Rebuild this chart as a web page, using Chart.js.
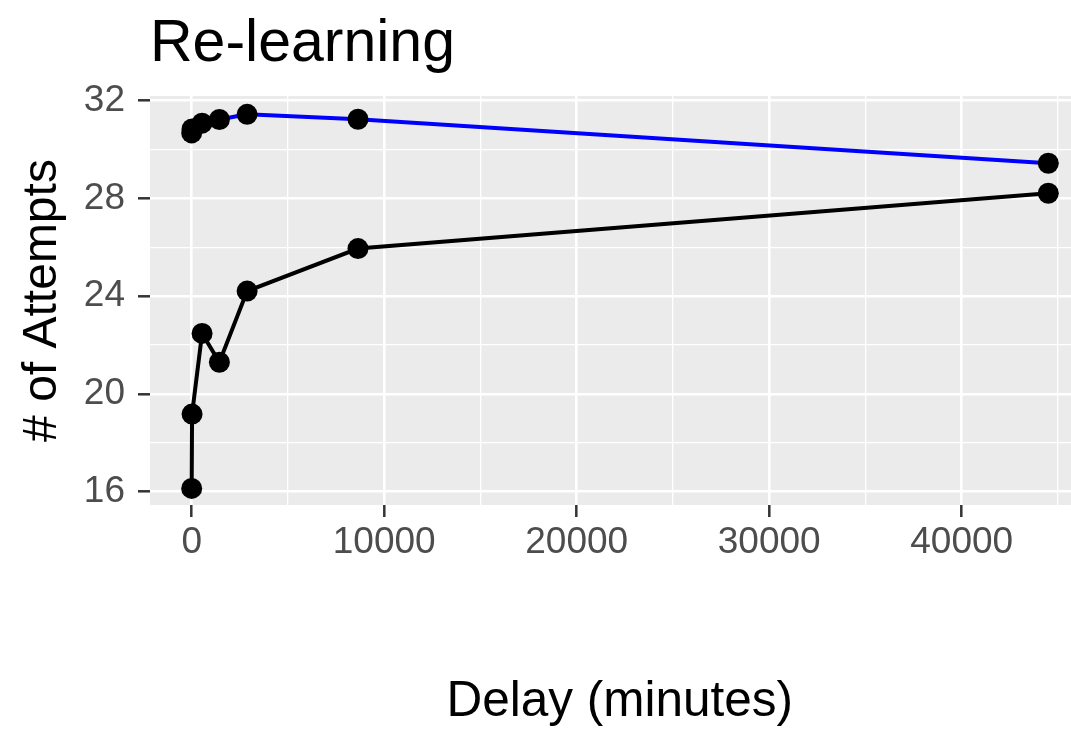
<!DOCTYPE html>
<html><head><meta charset="utf-8">
<script src="https://cdn.jsdelivr.net/npm/chart.js@4"></script>
<style>
html,body{margin:0;padding:0;background:#fff;overflow:hidden}
#wrap{width:1071px;height:732px;overflow:hidden;position:relative}
canvas{display:block}
</style>
</head><body>
<div id="wrap"><canvas id="c" width="1100" height="732"></canvas></div>
<script>
// ---- data ----
const delays        = [0, 20, 540, 1440, 2880, 8640, 44500];
const attemptsBlue  = [30.68, 30.84, 31.08, 31.23, 31.44, 31.24, 29.44];
const attemptsBlack = [16.14, 19.18, 22.48, 21.30, 24.21, 25.95, 28.21];
const xTickLabels   = [0, 10000, 20000, 30000, 40000];
const xGridValues   = [0, 5000, 10000, 15000, 20000, 25000, 30000, 35000, 40000, 45000];
const yTickLabels   = [16, 20, 24, 28, 32];
const yGridValues   = [16, 18, 20, 22, 24, 26, 28, 30, 32];
const chartTitle    = 'Re-learning';
const xAxisTitle    = 'Delay (minutes)';
const yAxisTitle    = '# of Attempts';

const FONT = '"Liberation Sans", Arial, Helvetica, sans-serif';

const toPoints = (xs, ys) => xs.map((x, i) => ({x: x, y: ys[i]}));

const panelBg = {
  id: 'panelBg',
  beforeDraw(chart) {
    const {ctx, chartArea: a} = chart;
    ctx.save();
    ctx.fillStyle = '#ffffff';
    ctx.fillRect(0, 0, chart.width, chart.height);
    ctx.fillStyle = '#EBEBEB';
    ctx.fillRect(a.left, a.top, a.right - a.left, a.bottom - a.top);
    ctx.restore();
  },
  afterDraw(chart) {
    const {ctx} = chart;
    ctx.save();
    ctx.fillStyle = '#000000';
    ctx.font = '59px ' + FONT;
    ctx.textBaseline = 'alphabetic';
    ctx.textAlign = 'left';
    ctx.fillText(chartTitle, 150, 61);
    ctx.restore();
  }
};

const isMajorX = v => xTickLabels.includes(v);
const isMajorY = v => yTickLabels.includes(v);

new Chart(document.getElementById('c'), {
  type: 'line',
  data: {
    datasets: [
      {
        label: 'Blue series',
        data: toPoints(delays, attemptsBlue),
        borderColor: '#0000FF',
        borderWidth: 4,
        pointBackgroundColor: '#000000',
        pointBorderColor: '#000000',
        pointRadius: 10.5,
        pointBorderWidth: 0,
        tension: 0
      },
      {
        label: 'Black series',
        data: toPoints(delays, attemptsBlack),
        borderColor: '#000000',
        borderWidth: 4,
        pointBackgroundColor: '#000000',
        pointBorderColor: '#000000',
        pointRadius: 10.5,
        pointBorderWidth: 0,
        tension: 0
      }
    ]
  },
  options: {
    responsive: false,
    animation: false,
    devicePixelRatio: 1,
    layout: {padding: {top: 96, left: 0, right: 0, bottom: 0}},
    plugins: {legend: {display: false}, tooltip: {enabled: false}, title: {display: false}},
    scales: {
      x: {
        type: 'linear',
        min: -2165,
        max: 46640,
        afterBuildTicks(scale) { scale.ticks = xGridValues.map(v => ({value: v})); },
        afterFit(scale) { scale.height = 227; scale.paddingLeft = 0; scale.paddingRight = 0; },
        border: {display: false},
        grid: {
          color: '#FFFFFF',
          lineWidth: c => (c.tick && isMajorX(c.tick.value)) ? 2.6 : 1.3,
          tickColor: c => (c.tick && isMajorX(c.tick.value)) ? '#333333' : 'rgba(0,0,0,0)',
          tickWidth: 2.5,
          tickLength: 12,
          drawTicks: true
        },
        ticks: {
          autoSkip: false,
          maxRotation: 0,
          minRotation: 0,
          padding: 4,
          color: '#4D4D4D',
          font: {family: FONT, size: 37},
          callback: v => isMajorX(v) ? String(v) : ''
        },
        title: {
          display: true,
          text: xAxisTitle,
          color: '#000000',
          font: {family: FONT, size: 49.5},
          padding: {top: 0, bottom: 0}
        }
      },
      y: {
        type: 'linear',
        min: 15.46,
        max: 32.19,
        afterBuildTicks(scale) { scale.ticks = yGridValues.map(v => ({value: v})); },
        afterFit(scale) { scale.width = 150; scale.paddingTop = 0; scale.paddingBottom = 0; },
        border: {display: false},
        grid: {
          color: '#FFFFFF',
          lineWidth: c => (c.tick && isMajorY(c.tick.value)) ? 2.6 : 1.3,
          tickColor: c => (c.tick && isMajorY(c.tick.value)) ? '#333333' : 'rgba(0,0,0,0)',
          tickWidth: 2.5,
          tickLength: 12,
          drawTicks: true
        },
        ticks: {
          autoSkip: false,
          padding: 13,
          color: '#4D4D4D',
          font: {family: FONT, size: 37},
          callback: v => isMajorY(v) ? String(v) : ''
        },
        title: {
          display: true,
          text: yAxisTitle,
          color: '#000000',
          font: {family: FONT, size: 48},
          padding: {top: 14, bottom: 0}
        }
      }
    }
  },
  plugins: [panelBg]
});
</script>
</body></html>
